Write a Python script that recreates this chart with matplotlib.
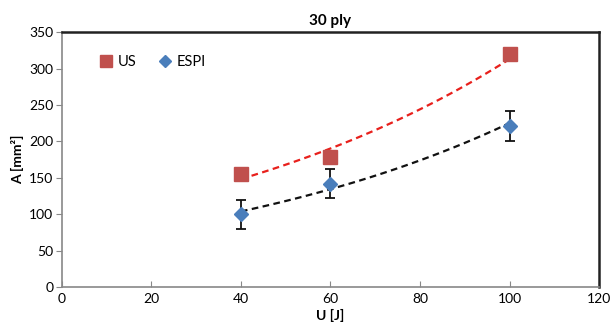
import numpy as np
import matplotlib
matplotlib.use("Agg")
import matplotlib.pyplot as plt

plt.rcParams['font.family'] = ['Lato', 'DejaVu Sans']

# data
energy = [40, 60, 100]
us_area = [155, 178, 320]
espi_area = [100, 142, 221]
espi_err = [20, 20, 20]

# excel style exponential trendlines
def exp_fit(x, y):
    k, ln_a = np.polyfit(x, np.log(y), 1)
    xs = np.linspace(min(x), max(x), 100)
    return xs, np.exp(ln_a) * np.exp(k * xs)

fig = plt.figure(figsize=(6.12, 3.31), dpi=100)
ax = fig.add_axes([0.101, 0.133, 0.878, 0.770])

xs, ys = exp_fit(energy, us_area)
ax.plot(xs, ys, ls=(0, (3, 2)), color='#e8201c', lw=1.6, zorder=2)
xs, ys = exp_fit(energy, espi_area)
ax.plot(xs, ys, ls=(0, (3, 2)), color='#111111', lw=1.6, zorder=2)

ax.errorbar(energy, espi_area, yerr=espi_err, fmt='none', ecolor='#111111',
            elinewidth=1.3, capsize=3.5, capthick=1.3, zorder=3)
ax.plot(energy, us_area, 's', color='#c0504d', ms=10, label='US', zorder=4)
ax.plot(energy, espi_area, 'D', color='#4a7ebb', ms=7, label='ESPI', zorder=4)

ax.set_xlim(0, 120)
ax.set_ylim(0, 350)
ax.set_xticks(range(0, 121, 20))
ax.set_yticks(range(0, 351, 50))
ax.tick_params(axis='x', direction='in', length=4, color='#888888', labelsize=10, pad=4)
ax.tick_params(axis='y', direction='out', length=4, color='#888888', labelsize=10, pad=2)

for s in ['left', 'bottom']:
    ax.spines[s].set_color('#888888')
    ax.spines[s].set_linewidth(1.2)
for s in ['top', 'right']:
    ax.spines[s].set_color('#222222')
    ax.spines[s].set_linewidth(1.8)

ax.set_title('30 ply', fontsize=11, fontweight='bold', pad=5)
ax.set_xlabel('U [J]', fontsize=10, fontweight='bold', labelpad=3)
ax.set_ylabel('A [mm²]', fontsize=10, fontweight='bold', labelpad=4)

ax.legend(loc='upper left', ncol=2, frameon=False, fontsize=10.5,
          handletextpad=0.3, columnspacing=1.4, handlelength=1.0,
          markerscale=0.85, bbox_to_anchor=(0.045, 0.96))

fig.savefig('out.png', dpi=100)
